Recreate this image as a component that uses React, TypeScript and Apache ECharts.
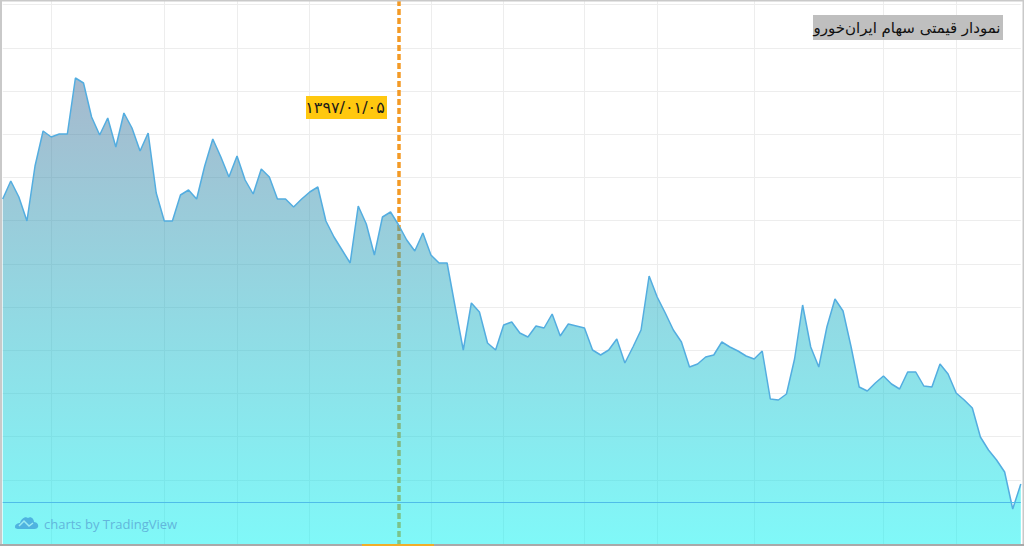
import React, { useEffect, useRef } from "react";
import * as echarts from "echarts";

const chartTitle = "نمودار قیمتی سهام ایران‌خورو";
const crosshairDate = "۱۳۹۷/۰۱/۰۵";
const watermark = "charts by TradingView";

// Height of the line above the chart's bottom edge (no price scale is shown).
const values = [
  347, 365, 349, 325, 380, 415, 409, 412, 412, 468, 463, 429, 411, 428, 399, 433, 418, 395, 413, 353, 325, 325, 351, 356, 347, 380, 407, 389, 369, 390, 366, 352, 377, 369, 347, 347, 339, 347, 354, 359, 325, 309, 296,
  283, 340, 322, 291, 329, 334, 321, 306, 295, 313, 291, 283, 283, 239, 196, 243, 234, 203, 196, 221, 224, 213, 209, 220, 218, 232, 210, 222, 220, 218, 196, 191, 196, 207, 183, 199, 216, 270, 249, 233, 216, 204,
  179, 182, 189, 191, 204, 199, 195, 190, 187, 195, 147, 146, 152, 187, 241, 199, 179, 219, 247, 235, 199, 159, 155, 163, 170, 162, 157, 174, 174, 160, 159, 182, 172, 153, 146, 138, 109, 96, 86, 74, 37, 62,
];
const categories = values.map((_, i) => String(i));
const gridIndices = [6, 20, 29, 38, 53, 62, 72, 81, 93, 109, 118];
const gridLevels = [541.3, 498.2, 455, 411.8, 368.6, 325.4, 282.2, 239, 196, 152.6, 109.4, 66.2];
const crosshairIndex = 49;
const lastPriceLevel = 44;

const cloudPath =
  "M0 11 C0 8 3 7 5 7 C6 3 10 0 13 2 C16 0 19 3 19 6 C22 6 24 9 23 11 C22 13 20 13 18 13 L6 13 C3 13 0 13 0 11 Z";

export default function App() {
  const ref = useRef<HTMLDivElement>(null);
  useEffect(() => {
    echarts.graphic.registerShape("cloudLogo", echarts.graphic.extendPath(cloudPath, {}));
    const chart = echarts.init(ref.current!, undefined, { renderer: "svg" });
    chart.setOption({
      animation: false,
      backgroundColor: "#ffffff",
      grid: { left: 2.7, right: 3.2, top: 0, bottom: 0 },
      xAxis: {
        type: "category",
        data: categories,
        boundaryGap: false,
        axisLine: { show: false },
        axisTick: { show: false },
        axisLabel: { show: false },
        splitLine: {
          show: true,
          interval: (i: number) => gridIndices.includes(i),
          lineStyle: { color: "#EDEDED", width: 1 },
        },
      },
      yAxis: {
        type: "value",
        min: 0,
        max: 546,
        axisLine: { show: false },
        axisTick: { show: false },
        axisLabel: { show: false },
        splitLine: { show: false },
      },
      series: [
        {
          type: "line",
          z: 1,
          data: [],
          silent: true,
          markLine: {
            z: 1,
            silent: true,
            symbol: "none",
            label: { show: false },
            lineStyle: { color: "#EDEDED", width: 1, type: "solid" },
            data: gridLevels.map((v) => ({ yAxis: v })),
          },
        },
        {
          type: "line",
          z: 1,
          data: [],
          silent: true,
          markLine: {
            z: 1,
            silent: true,
            symbol: "none",
            label: { show: false },
            lineStyle: { color: "#F39A26", width: 3.5, type: [6, 3] },
            data: [{ xAxis: categories[crosshairIndex] }],
          },
        },
        {
          type: "line",
          z: 2,
          data: values,
          showSymbol: false,
          smooth: false,
          lineStyle: { color: "#53ADE0", width: 1.5 },
          areaStyle: {
            opacity: 1,
            color: new echarts.graphic.LinearGradient(0, 0, 0, 1, [
              { offset: 0, color: "rgba(75,115,155,0.5)" },
              { offset: 1, color: "rgba(0,242,242,0.5)" },
            ]),
          },
          markLine: {
            z: 3,
            silent: true,
            symbol: "none",
            label: { show: false },
            lineStyle: { color: "#4FBDE8", width: 1, type: "solid" },
            data: [{ yAxis: lastPriceLevel }],
          },
        },
      ],
      graphic: [
        { type: "rect", z: 10, shape: { x: 306, y: 96, width: 81, height: 23 }, style: { fill: "#FFC80F" } },
        {
          type: "text", z: 11, x: 345, y: 107.5,
          style: { text: crosshairDate, fill: "#1a1a1a", font: "16px 'DejaVu Sans'", align: "center", verticalAlign: "middle" },
        },
        { type: "rect", z: 10, shape: { x: 813, y: 15, width: 190, height: 25 }, style: { fill: "#BFBFBF" } },
        {
          type: "text", z: 11, x: 907, y: 28,
          style: { text: chartTitle, fill: "#111111", font: "15px 'DejaVu Sans'", align: "center", verticalAlign: "middle" },
        },
        { type: "cloudLogo", z: 11, x: 15, y: 516, style: { fill: "#4FB3E0" } },
        {
          type: "polyline", z: 12,
          shape: { points: [[19, 526], [24, 521], [29, 526], [33, 523]] },
          style: { stroke: "#9BEAF2", fill: "none", lineWidth: 1.5 },
        },
        {
          type: "text", z: 11, x: 44, y: 524,
          style: { text: watermark, fill: "#62B6DC", font: "13px 'Open Sans'", align: "left", verticalAlign: "middle" },
        },
        { type: "rect", z: 12, shape: { x: 0, y: 0, width: 2, height: 546 }, style: { fill: "#C9C9C9" } },
        { type: "rect", z: 12, shape: { x: 0, y: 0, width: 1024, height: 1.5 }, style: { fill: "#C9C9C9" } },
        { type: "rect", z: 12, shape: { x: 1022.5, y: 0, width: 1.5, height: 546 }, style: { fill: "#C9C9C9" } },
        { type: "rect", z: 12, shape: { x: 0, y: 544, width: 1024, height: 2 }, style: { fill: "#A9A9A9" } },
        { type: "rect", z: 13, shape: { x: 362, y: 544, width: 72, height: 2 }, style: { fill: "#F0AE2A" } },
      ],
    });
    return () => chart.dispose();
  }, []);
  return <div ref={ref} style={{ position: "fixed", left: 0, top: 0, width: 1024, height: 546 }} />;
}
